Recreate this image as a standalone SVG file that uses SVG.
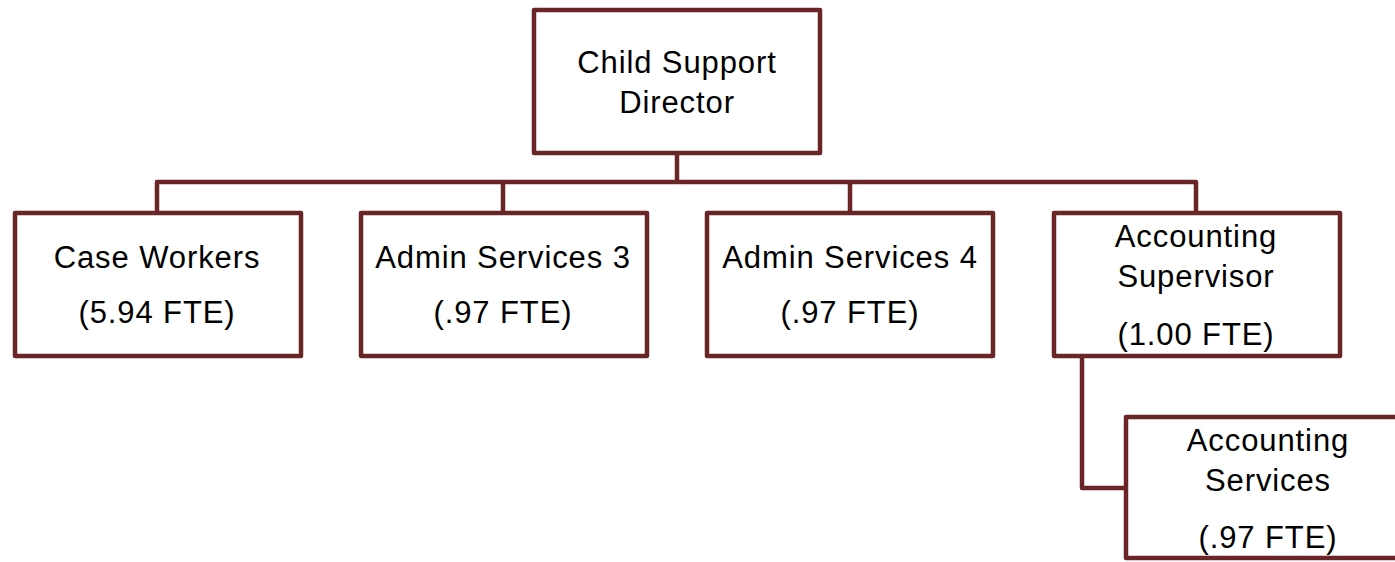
<svg xmlns="http://www.w3.org/2000/svg" width="1395" height="562" viewBox="0 0 1395 562">
<style>
.box{fill:#ffffff;stroke:#6a2527;stroke-width:4.5;stroke-linejoin:round}
.conn{fill:none;stroke:#6a2527;stroke-width:4.5;stroke-linejoin:round}
.t{font-family:"Liberation Sans",Arial,sans-serif;font-size:31px;letter-spacing:0.9px;fill:#000000;text-anchor:middle}
</style>
<rect width="1395" height="562" fill="#ffffff"/>
<g id="connectors">
<path class="conn" d="M677 152 V182"/>
<path class="conn" d="M157 213 V182 H1196 V213"/>
<path class="conn" d="M503 182 V213"/>
<path class="conn" d="M850 182 V213"/>
<path class="conn" d="M1082 357 V488 H1125"/>
</g>
<g id="director">
<rect class="box" x="534" y="10" width="286" height="143"/>
<text class="t" x="677" y="73">Child Support</text>
<text class="t" x="677" y="113">Director</text>
</g>
<g id="case-workers">
<rect class="box" x="15" y="213" width="286" height="143"/>
<text class="t" x="157" y="268">Case Workers</text>
<text class="t" x="157" y="323">(5.94 FTE)</text>
</g>
<g id="admin-3">
<rect class="box" x="361" y="213" width="286" height="143"/>
<text class="t" x="503" y="268">Admin Services 3</text>
<text class="t" x="503" y="323">(.97 FTE)</text>
</g>
<g id="admin-4">
<rect class="box" x="707" y="213" width="286" height="143"/>
<text class="t" x="850" y="268">Admin Services 4</text>
<text class="t" x="850" y="323">(.97 FTE)</text>
</g>
<g id="accounting-supervisor">
<rect class="box" x="1054" y="213" width="286" height="143"/>
<text class="t" x="1196" y="247">Accounting</text>
<text class="t" x="1196" y="287">Supervisor</text>
<text class="t" x="1196" y="345">(1.00 FTE)</text>
</g>
<g id="accounting-services">
<rect class="box" x="1126" y="417" width="290" height="141"/>
<text class="t" x="1268" y="451">Accounting</text>
<text class="t" x="1268" y="491">Services</text>
<text class="t" x="1268" y="548">(.97 FTE)</text>
</g>
</svg>
